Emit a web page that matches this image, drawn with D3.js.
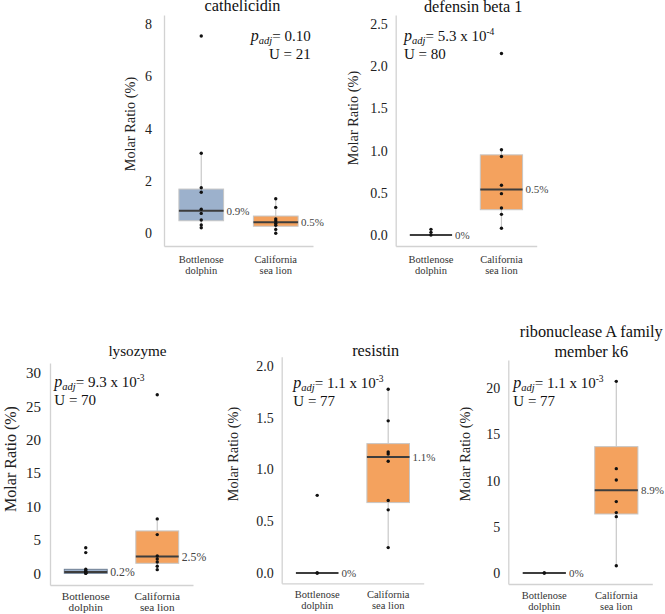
<!DOCTYPE html>
<html>
<head>
<meta charset="utf-8">
<script src="https://cdn.jsdelivr.net/npm/d3@7"></script>
<style>
  body { margin: 0; background: #fff; }
</style>
</head>
<body>
<svg id="drawing_region" width="665" height="614"></svg>
<script>
// ---- data ----
const species = ["Bottlenose dolphin", "California sea lion"];
const titles = [["cathelicidin"], ["defensin beta 1"], ["lysozyme"], ["resistin"], ["ribonuclease A family", "member k6"]];

// box stats: [q1, median, q3, whisker low, whisker high]
const dolphinStats = [
    [0.48, 0.86, 1.69, 0.21, 3.06],
    [0, 0, 0, 0, 0],
    [0, 0.2, 0.6, 0, 0.6],
    [0, 0, 0, 0, 0],
    [0, 0, 0, 0, 0]
];
const seaLionStats = [
    [0.27, 0.42, 0.66, 0.0, 1.32],
    [0.30, 0.54, 0.95, 0.08, 1.01],
    [1.5, 2.5, 6.35, 0.55, 8.15],
    [0.68, 1.12, 1.25, 0.245, 1.775],
    [6.39, 8.95, 13.68, 0.79, 20.75]
];
const dolphinPoints = [
    [7.54, 3.06, 1.74, 1.57, 0.92, 0.76, 0.51, 0.32, 0.21],
    [0.067, 0.032, 0],
    [3.84, 3.1, 0.6, 0.4, 0.25, 0.1, 0, 0],
    [0.75, 0, 0],
    [0, 0]
];
const seaLionPoints = [
    [1.32, 0.99, 0.55, 0.47, 0.38, 0.31, 0.15, 0.0],
    [2.15, 1.01, 0.93, 0.59, 0.49, 0.32, 0.245, 0.08],
    [26.75, 8.15, 5.8, 2.6, 2.15, 1.7, 1.05, 0.55],
    [1.775, 1.47, 1.17, 1.15, 1.08, 0.70, 0.61, 0.245],
    [20.75, 11.3, 10.07, 7.73, 6.54, 6.1, 0.79]
];
const medianLabels = [["0.9%", "0.5%"], ["0%", "0.5%"], ["0.2%", "2.5%"], ["0%", "1.1%"], ["0%", "8.9%"]];
const pValues = ["0.10", "5.3 x 10", "9.3 x 10", "1.1 x 10", "1.1 x 10"];
const pExponents = ["", "-4", "-3", "-3", "-3"];
const uValues = [21, 80, 70, 77, 77];
const yTicks = [[0, 2, 4, 6, 8], [0, 0.5, 1, 1.5, 2, 2.5], [0, 5, 10, 15, 20, 25, 30], [0, 0.5, 1, 1.5, 2], [0, 5, 10, 15, 20]];
const yDomains = [[-0.485, 8.34], [-0.13, 2.607], [-1.75, 31.5], [-0.1, 2.09], [-1.19, 23.06]];

// ---- layout ----
const SERIF = '"Liberation Serif", "Times New Roman", serif';
const panels = [
    {left: 164,   top: 15,    width: 149, height: 231,   fs: 1,    labelX: 130,   labelY: 124, titleDx: 4,  titleY: [11],       pX: 310.7, pAnchor: 'end',   pY: 41,  catY: 16.5, pad: 12, tickFmt: d3.format('d')},
    {left: 395.7, top: 15,    width: 141, height: 231,   fs: 1,    labelX: 353,   labelY: 118, titleDx: 7,  titleY: [12],       pX: 404,   pAnchor: 'start', pY: 41,  catY: 16.5, pad: 8,  tickFmt: d3.format('.1f')},
    {left: 50,    top: 363,   width: 143, height: 222,   fs: 1.07, labelX: 10,    labelY: 459, titleDx: 16, titleY: [356],      pX: 54.3,  pAnchor: 'start', pY: 387, catY: 14.5, pad: 9,  tickFmt: d3.format('d')},
    {left: 281.7, top: 356.7, width: 142, height: 226.6, fs: 1,    labelX: 233.3, labelY: 454, titleDx: 23, titleY: [356],      pX: 293.3, pAnchor: 'start', pY: 388, catY: 15,   pad: 8,  tickFmt: d3.format('.1f')},
    {left: 508.3, top: 360,   width: 144, height: 224,   fs: 1,    labelX: 465,   labelY: 454, titleDx: 11, titleY: [337, 357], pX: 513.3, pAnchor: 'start', pY: 388, catY: 14.5, pad: 8,  tickFmt: d3.format('d')}
];
const boxColors = ['#9cb1cc', '#f4a25e'];

const svg = d3.select('#drawing_region').attr('font-family', SERIF);

panels.forEach((p, i) => {
    const g = svg.append('g').attr('transform', `translate(${p.left}, ${p.top})`);

    const xscale = d3.scaleBand().domain(species).range([0, p.width]).padding(0);
    const yscale = d3.scaleLinear().domain(yDomains[i]).range([p.height, 0]);

    // axes
    const yaxis = d3.axisLeft(yscale).tickValues(yTicks[i]).tickFormat(p.tickFmt).tickSize(0).tickPadding(p.pad);
    const yaxis_group = g.append('g').call(yaxis).attr('font-family', SERIF);
    const xaxis = d3.axisBottom(xscale).tickSize(0).tickFormat('');
    const xaxis_group = g.append('g').attr('transform', `translate(0, ${p.height})`).call(xaxis);

    [yaxis_group, xaxis_group].forEach(a => {
        a.select('.domain').attr('stroke', '#d2d2d2').attr('stroke-width', 1.3);
    });
    yaxis_group.selectAll('text').attr('font-size', 14 * p.fs).attr('fill', '#222').attr('font-family', SERIF);

    // category labels, two lines
    species.forEach(s => {
        const words = s.split(' ');
        const lines = [words[0], words.slice(1).join(' ')];
        lines.forEach((ln, k) => {
            g.append('text')
                .attr('x', xscale(s) + xscale.bandwidth() / 2)
                .attr('y', p.height + p.catY + k * 11)
                .attr('text-anchor', 'middle')
                .attr('font-family', SERIF)
                .attr('font-size', 10.5 * p.fs)
                .attr('fill', '#333')
                .text(ln);
        });
    });

    // boxes
    const bw = xscale.bandwidth() * 0.6;
    const stats = [dolphinStats[i], seaLionStats[i]];
    const pts = [dolphinPoints[i], seaLionPoints[i]];
    stats.forEach((st, j) => {
        const cx = xscale(species[j]) + xscale.bandwidth() / 2;
        const [q1, med, q3, lo, hi] = st;
        // whiskers
        g.append('line').attr('x1', cx).attr('x2', cx)
            .attr('y1', yscale(q3)).attr('y2', yscale(hi))
            .attr('stroke', '#c8c8c8').attr('stroke-width', 1.2);
        g.append('line').attr('x1', cx).attr('x2', cx)
            .attr('y1', yscale(q1)).attr('y2', yscale(lo))
            .attr('stroke', '#c8c8c8').attr('stroke-width', 1.2);
        // box
        g.append('rect')
            .attr('x', cx - bw / 2).attr('width', bw)
            .attr('y', yscale(q3)).attr('height', Math.max(0, yscale(q1) - yscale(q3)))
            .attr('fill', boxColors[j])
            .attr('stroke', j === 0 && q3 - q1 < 1 ? '#6f7f94' : '#c6c6c6')
            .attr('stroke-width', 1);
        // median
        g.append('line')
            .attr('x1', cx - bw / 2).attr('x2', cx + bw / 2)
            .attr('y1', yscale(med)).attr('y2', yscale(med))
            .attr('stroke', '#3d3d3d').attr('stroke-width', 2);
        // points
        g.selectAll(null).data(pts[j]).enter().append('circle')
            .attr('cx', cx).attr('cy', d => yscale(d))
            .attr('r', 1.7).attr('fill', '#111');
        // median label
        g.append('text')
            .attr('x', cx + bw / 2 + 3)
            .attr('y', yscale(med))
            .attr('dy', '0.35em')
            .attr('font-family', SERIF)
            .attr('font-size', 11 * p.fs)
            .attr('fill', '#444')
            .text(medianLabels[i][j]);
    });

    // y label
    svg.append('text')
        .attr('transform', `translate(${p.labelX}, ${p.labelY}) rotate(-90)`)
        .attr('text-anchor', 'middle')
        .attr('dy', '0.35em')
        .attr('font-family', SERIF)
        .attr('font-size', i === 2 ? 16 : 14.3)
        .attr('fill', '#222')
        .text('Molar Ratio (%)');

    // title
    titles[i].forEach((t, k) => {
        svg.append('text')
            .attr('x', p.left + p.width / 2 + p.titleDx)
            .attr('y', p.titleY[k])
            .attr('text-anchor', 'middle')
            .attr('font-family', SERIF)
            .attr('font-size', i === 2 ? 15.2 : 16.3)
            .attr('fill', '#111')
            .text(t);
    });

    // p-value annotation
    const pt = svg.append('text')
        .attr('x', p.pX).attr('y', p.pY)
        .attr('text-anchor', p.pAnchor)
        .attr('font-family', SERIF)
        .attr('font-size', 15)
        .attr('fill', '#111');
    pt.append('tspan').attr('font-style', 'italic').attr('font-size', 16).text('p');
    pt.append('tspan').attr('font-style', 'italic').attr('font-size', 10.5).attr('dy', 3).text('adj');
    pt.append('tspan').attr('dy', -3).text('= ' + pValues[i]);
    if (pExponents[i]) {
        pt.append('tspan').attr('font-size', 9.5).attr('dy', -6).text(pExponents[i]);
    }
    svg.append('text')
        .attr('x', p.pX).attr('y', p.pY + 17.5)
        .attr('text-anchor', p.pAnchor)
        .attr('font-family', SERIF)
        .attr('font-size', 15)
        .attr('fill', '#111')
        .text('U = ' + uValues[i]);
});
</script>
</body>
</html>
